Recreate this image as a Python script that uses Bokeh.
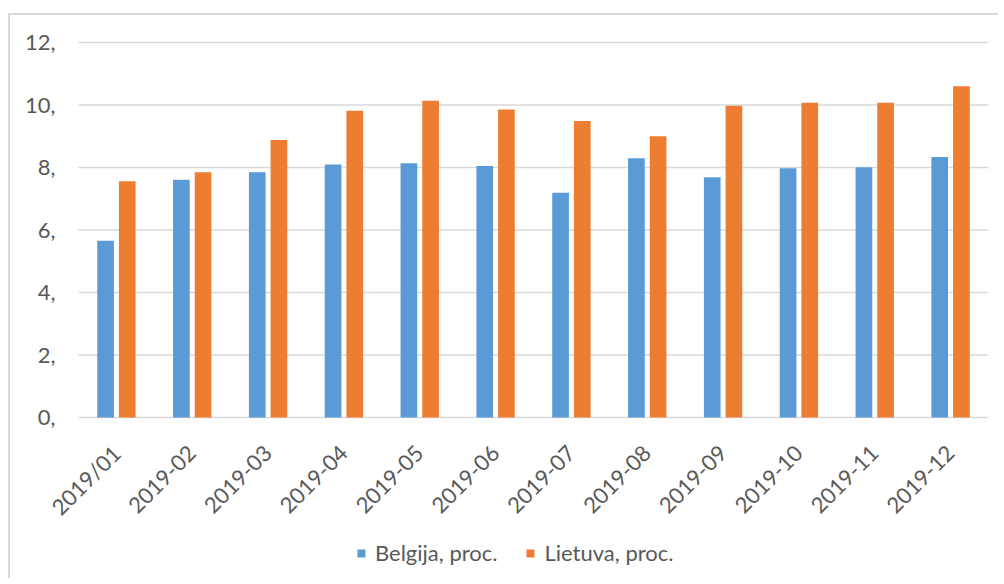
from bokeh.plotting import figure
from bokeh.models import Range1d, Legend, LegendItem
from bokeh.core.properties import value
from bokeh.embed import file_html
from bokeh.resources import INLINE
import math

months = ["2019/01", "2019-02", "2019-03", "2019-04", "2019-05", "2019-06",
          "2019-07", "2019-08", "2019-09", "2019-10", "2019-11", "2019-12"]
belgija = [5.66, 7.61, 7.85, 8.10, 8.14, 8.05, 7.19, 8.30, 7.69, 7.98, 8.01, 8.34]
lietuva = [7.56, 7.85, 8.88, 9.82, 10.14, 9.86, 9.49, 9.00, 9.98, 10.07, 10.07, 10.60]
y_ticks = [0, 2, 4, 6, 8, 10, 12]
y_tick_labels = ["0,", "2,", "4,", "6,", "8,", "10,", "12,"]
series_names = ["Belgija, proc.", "Lietuva, proc."]

BLUE = "#5B9BD5"
ORANGE = "#ED7D31"
GRID = "#D9D9D9"
TEXT = "#595959"
FONT = "Lato"

# canvas geometry: the bar area is 910 x 375 px, with 68 px of room on the
# left for the value labels, 27 px above and 163 px below for labels/legend
W, H = 990, 565
PAD_L, PAD_R, PAD_T, PAD_B = 68, 12, 27, 163
n = len(months)
Y_MAX = y_ticks[-1]
px_x = (W - PAD_L - PAD_R) / n
px_y = (H - PAD_T - PAD_B) / Y_MAX

x_range = Range1d(-0.5 - PAD_L / px_x, n - 0.5 + PAD_R / px_x)
y_range = Range1d(-PAD_B / px_y, Y_MAX + PAD_T / px_y)

p = figure(
    width=W, height=H, x_range=x_range, y_range=y_range,
    x_axis_location=None, y_axis_location=None,
    output_backend="svg", toolbar_location=None,
    min_border=0,
    background_fill_color="white", border_fill_color="white",
)
p.styles = {
    "margin-left": "8px", "margin-top": "13px",
    "border-left": "2px solid #D9D9D9", "border-top": "2px solid #D9D9D9",
}
p.outline_line_color = None
p.grid.visible = False

idx = list(range(n))
src = dict(
    x=idx,
    x_b=[i - 0.143 for i in idx],
    x_l=[i + 0.143 for i in idx],
    month=months, belgija=belgija, lietuva=lietuva, base=[0] * n,
)

# horizontal gridlines across the bar area
p.segment(x0=-0.5, x1=n - 0.5, y0=y_ticks, y1=y_ticks,
          line_color=GRID, line_width=1.5)

r1 = p.vbar(x="x_b", top="belgija", width=0.22, source=src,
            fill_color=BLUE, line_color=None)
r2 = p.vbar(x="x_l", top="lietuva", width=0.22, source=src,
            fill_color=ORANGE, line_color=None)

# value labels at the left end of each gridline
p.text(x=-0.5, y=y_ticks, text=y_tick_labels,
       text_align="right", text_baseline="middle", x_offset=-23,
       text_font=value(FONT), text_font_size="22px", text_color=TEXT)

# rotated month labels hanging from the zero line
p.text(x="x", y="base", text="month", source=src,
       angle=math.pi / 4, text_align="right", text_baseline="middle",
       y_offset=32,
       text_font=value(FONT), text_font_size="22px", text_color=TEXT)

legend = Legend(
    items=[LegendItem(label=series_names[0], renderers=[r1]),
           LegendItem(label=series_names[1], renderers=[r2])],
    orientation="horizontal",
    location=(346, 14),
    glyph_width=10, glyph_height=10,
    label_standoff=9, spacing=28,
    padding=0, margin=0,
    border_line_color=None, background_fill_alpha=0,
    label_text_font=FONT, label_text_font_size="22px", label_text_color=TEXT,
)
p.add_layout(legend, "center")

open("out.html", "w").write(file_html(p, INLINE))
